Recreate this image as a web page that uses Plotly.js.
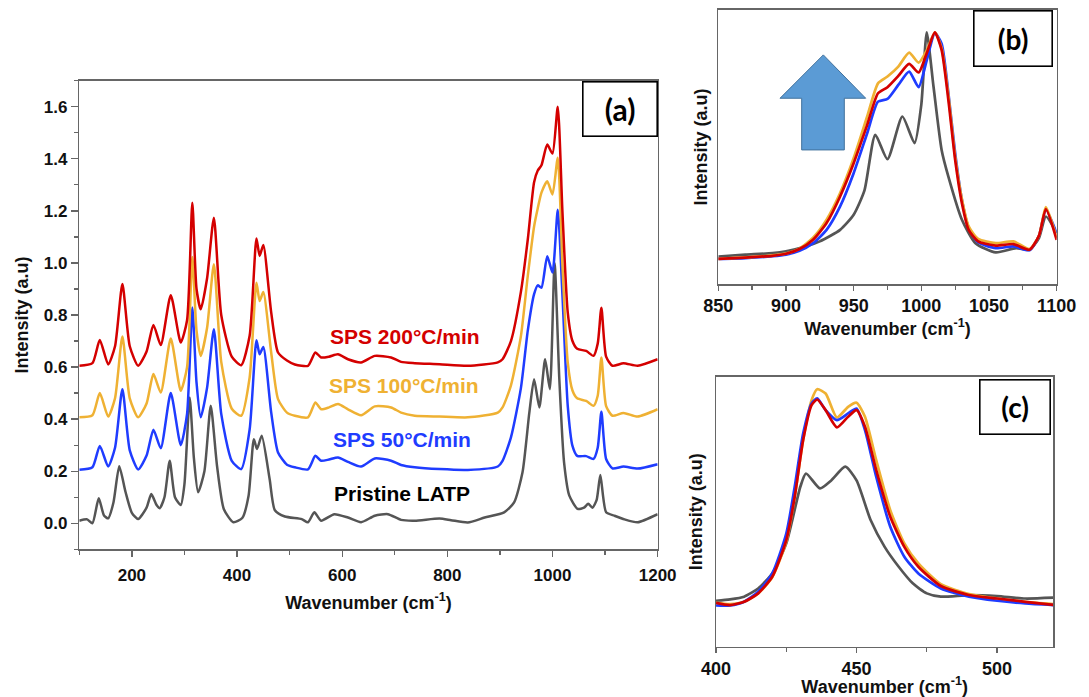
<!DOCTYPE html>
<html><head><meta charset="utf-8">
<script src="https://cdn.plot.ly/plotly-3.0.1.min.js"></script>
<style>html,body{margin:0;padding:0;background:#fff}</style>
</head><body><div id="chart" style="width:1089px;height:697px"></div>
<script>
// ---------- Panel (a): full spectra (offset) ----------
const wnA = [100,125,139,155,168,182,196,212,228,241,255,274,293,305,315,323,331,343,356,370,390,408,424,437,443,450,465,478,495,510,535,549,560,575,592,611,636,662,693,712,738,785,839,896,905,921,940,953,965,972,979,990,1000,1010,1019,1029,1038,1047,1064,1078,1086,1093,1102,1114,1135,1162,1200];
const sps200 = [0.605,0.615,0.704,0.61,0.68,0.919,0.68,0.605,0.66,0.762,0.685,0.876,0.694,0.78,1.231,0.90,0.822,0.94,1.174,0.80,0.64,0.607,0.72,1.094,1.027,1.069,0.81,0.656,0.625,0.61,0.605,0.656,0.637,0.64,0.649,0.63,0.618,0.643,0.637,0.62,0.615,0.611,0.605,0.618,0.63,0.70,0.89,1.09,1.31,1.355,1.375,1.455,1.42,1.60,1.193,0.81,0.70,0.67,0.662,0.643,0.69,0.828,0.64,0.605,0.615,0.605,0.63];
const sps100 = [0.407,0.415,0.50,0.41,0.48,0.717,0.48,0.407,0.46,0.573,0.502,0.71,0.509,0.60,1.023,0.74,0.643,0.75,0.995,0.62,0.44,0.413,0.56,0.924,0.854,0.888,0.656,0.477,0.425,0.413,0.407,0.464,0.438,0.445,0.458,0.438,0.415,0.449,0.445,0.425,0.413,0.41,0.407,0.425,0.445,0.53,0.72,0.95,1.14,1.21,1.27,1.314,1.263,1.404,0.988,0.618,0.51,0.48,0.47,0.451,0.49,0.637,0.45,0.413,0.424,0.41,0.438];
const sps50 = [0.206,0.215,0.297,0.218,0.29,0.515,0.28,0.207,0.26,0.359,0.288,0.50,0.30,0.42,0.829,0.54,0.407,0.52,0.745,0.42,0.24,0.208,0.36,0.703,0.649,0.677,0.426,0.272,0.225,0.215,0.207,0.259,0.24,0.245,0.253,0.236,0.218,0.249,0.24,0.224,0.215,0.208,0.205,0.218,0.24,0.33,0.52,0.74,0.88,0.914,0.905,1.026,0.963,1.204,0.873,0.451,0.297,0.259,0.258,0.247,0.29,0.428,0.247,0.211,0.218,0.21,0.227];
const wnP = [100,115,125,137,147,155,165,176,188,200,212,228,237,247,253,262,272,282,293,300,310,318,326,338,350,362,375,393,410,422,432,438,447,462,472,491,523,535,547,560,585,611,636,662,687,712,738,785,807,839,871,908,927,943,956,965,975,986,995,1004,1013,1022,1032,1048,1060,1068,1076,1084,1091,1102,1118,1137,1162,1200];
const pristine = [0.01,0.015,0.0,0.096,0.03,0.019,0.08,0.219,0.12,0.04,0.016,0.06,0.112,0.07,0.058,0.1,0.24,0.1,0.07,0.15,0.483,0.25,0.119,0.2,0.451,0.22,0.054,0.004,0.02,0.106,0.323,0.285,0.336,0.17,0.05,0.026,0.016,0.004,0.042,0.01,0.035,0.022,0.004,0.029,0.035,0.013,0.01,0.018,0.012,0.003,0.022,0.042,0.08,0.196,0.426,0.553,0.445,0.63,0.515,1.0,0.553,0.234,0.106,0.055,0.06,0.075,0.06,0.09,0.185,0.042,0.029,0.015,0.004,0.035];

// ---------- Panel (b): 850-1100 normalized ----------
const wnB = [850,870,890,900,910,920,930,940,950,960,968,975,983,991,998,1004,1010,1015,1020,1025,1030,1035,1042,1055,1068,1080,1087,1092,1100];
const redB = [-0.004,0.002,0.01,0.019,0.04,0.081,0.155,0.273,0.42,0.59,0.73,0.757,0.807,0.86,0.822,0.907,1.0,0.922,0.70,0.435,0.243,0.125,0.074,0.055,0.062,0.037,0.10,0.217,0.081];
const orangeB = [-0.004,0.003,0.012,0.02,0.042,0.09,0.17,0.288,0.442,0.627,0.774,0.804,0.848,0.91,0.866,0.92,1.0,0.93,0.72,0.45,0.26,0.14,0.085,0.066,0.074,0.04,0.10,0.226,0.09];
const blueB = [-0.004,0.0,0.008,0.015,0.032,0.066,0.125,0.229,0.376,0.553,0.693,0.705,0.767,0.826,0.757,0.876,0.996,0.95,0.73,0.465,0.258,0.133,0.07,0.044,0.052,0.035,0.10,0.214,0.11];
const wnBP = [850,870,890,900,915,925,940,950,958,966,975,986,995,1000,1004,1009,1015,1020,1030,1040,1055,1070,1080,1087,1092,1100];
const pristineB = [0.007,0.015,0.022,0.03,0.052,0.074,0.125,0.192,0.30,0.546,0.438,0.627,0.509,0.68,1.0,0.76,0.479,0.361,0.17,0.066,0.025,0.044,0.037,0.09,0.184,0.11];

// ---------- Panel (c): 400-520 normalized ----------
const wnC = [400,405,410,415,420,425,428,431,434,436,439,443,447,450,453,457,462,467,472,480,490,500,510,520];
const redC = [0.003,-0.008,0.008,0.049,0.13,0.309,0.52,0.797,0.967,0.995,0.943,0.859,0.911,0.943,0.862,0.65,0.423,0.276,0.179,0.085,0.041,0.024,0.008,-0.007];
const blueC = [-0.01,-0.01,0.008,0.057,0.146,0.341,0.569,0.829,0.976,1.0,0.943,0.894,0.927,0.951,0.846,0.618,0.374,0.228,0.146,0.073,0.033,0.013,0.0,-0.008];
const orangeC = [0.003,-0.003,0.008,0.049,0.127,0.301,0.52,0.797,0.992,1.045,1.024,0.907,0.959,0.979,0.911,0.699,0.455,0.293,0.195,0.094,0.046,0.024,0.008,-0.003];
const wnCP = [400,405,410,415,420,425,430,432,437,441,446,450,455,460,465,470,475,480,490,500,510,520];
const pristineC = [0.013,0.02,0.033,0.073,0.146,0.293,0.569,0.634,0.561,0.60,0.667,0.60,0.407,0.276,0.179,0.098,0.049,0.033,0.041,0.036,0.024,0.028];

const labels = ["SPS 200°C/min","SPS 100°C/min","SPS 50°C/min","Pristine LATP"];
const xTitle = "Wavenumber (cm<sup>-1</sup>)";
const yTitle = "Intensity (a.u)";

const C_RED = "#d40000", C_OR = "#efb133", C_BLUE = "#1f3cff", C_GREY = "#555555";
const FONT = "Liberation Sans, Arial, sans-serif";

function tr(x, y, color, xa, ya, name, w) {
  return {x: x, y: y, type: "scatter", mode: "lines", name: name, xaxis: xa, yaxis: ya,
    line: {color: color, width: w, shape: "spline", smoothing: 0.6}, hoverinfo: "x+y+name"};
}
const data = [
  tr(wnP, pristine, C_GREY, "x", "y", labels[3], 2.5),
  tr(wnA, sps50, C_BLUE, "x", "y", labels[2], 2.5),
  tr(wnA, sps100, C_OR, "x", "y", labels[1], 2.5),
  tr(wnA, sps200, C_RED, "x", "y", labels[0], 2.5),
  tr(wnBP, pristineB, C_GREY, "x2", "y2", labels[3], 2.7),
  tr(wnB, blueB, C_BLUE, "x2", "y2", labels[2], 2.7),
  tr(wnB, orangeB, C_OR, "x2", "y2", labels[1], 2.7),
  tr(wnB, redB, C_RED, "x2", "y2", labels[0], 2.7),
  tr(wnCP, pristineC, C_GREY, "x3", "y3", labels[3], 2.7),
  tr(wnC, orangeC, C_OR, "x3", "y3", labels[1], 2.7),
  tr(wnC, blueC, C_BLUE, "x3", "y3", labels[2], 2.7),
  tr(wnC, redC, C_RED, "x3", "y3", labels[0], 2.7)
];

const tickF = {family: FONT, size: 17, color: "#111", weight: "bold"};
const titleF = {family: FONT, size: 18, color: "#111", weight: "bold"};
const axBase = {showline: true, mirror: true, linecolor: "#666", linewidth: 1.5,
  showgrid: false, zeroline: false, ticks: "outside", tickcolor: "#666", tickwidth: 1.3, automargin: false};

const layout = {
  width: 1089, height: 697, margin: {l: 0, r: 0, t: 0, b: 0},
  paper_bgcolor: "#fff", plot_bgcolor: "#fff", showlegend: false,
  xaxis: Object.assign({}, axBase, {domain: [0.0728, 0.6039], range: [100, 1200], anchor: "y",
    tick0: 0, dtick: 200, ticklen: 6, tickfont: tickF, ticklabelstandoff: 4,
    minor: {ticks: "outside", dtick: 100, ticklen: 4, tickcolor: "#666"},
    title: {text: xTitle, font: titleF, standoff: 12}}),
  yaxis: Object.assign({}, axBase, {domain: [0.2119, 0.8842], range: [-0.1, 1.7], anchor: "x",
    tick0: 0, dtick: 0.2, tickformat: ".1f", ticklen: 7, tickfont: tickF,
    minor: {ticks: "outside", dtick: 0.1, ticklen: 4, tickcolor: "#666"},
    title: {text: yTitle, font: titleF, standoff: 10}}),
  xaxis2: Object.assign({}, axBase, {domain: [0.6596, 0.9703], range: [850, 1100], anchor: "y2",
    tick0: 850, dtick: 50, ticklen: 5, tickfont: {family: FONT, size: 18, color: "#111", weight: "bold"},
    minor: {ticks: "outside", dtick: 25, ticklen: 4, tickcolor: "#666"},
    title: {text: xTitle, font: titleF, standoff: 1}}),
  yaxis2: Object.assign({}, axBase, {domain: [0.5925, 0.9857], range: [-0.115, 1.099], anchor: "x2",
    ticks: "", showticklabels: false,
    title: {text: yTitle, font: titleF, standoff: 4}}),
  xaxis3: Object.assign({}, axBase, {domain: [0.6575, 0.9672], range: [400, 520], anchor: "y3",
    tick0: 400, dtick: 50, ticklen: 5, tickfont: {family: FONT, size: 18, color: "#111", weight: "bold"},
    minor: {ticks: "outside", dtick: 25, ticklen: 4, tickcolor: "#666"},
    title: {text: xTitle, font: titleF, standoff: 0}}),
  yaxis3: Object.assign({}, axBase, {domain: [0.0722, 0.4595], range: [-0.211, 1.106], anchor: "x3",
    ticks: "", showticklabels: false,
    title: {text: yTitle, font: titleF, standoff: 7}}),
  shapes: [{type: "path", xref: "x2", yref: "y2",
    path: "M 927.6,0.90 L 958.9,0.708 L 943.1,0.708 L 943.1,0.479 L 911.6,0.479 L 911.6,0.708 L 895.6,0.708 Z",
    fillcolor: "#5b9bd5", line: {color: "#41719c", width: 1}}],
  annotations: [
    {text: "<b>(a)</b>", xref: "x domain", yref: "y domain", x: 1, y: 1, xanchor: "right", yanchor: "top",
     showarrow: false, width: 71, height: 51, bordercolor: "#000", borderwidth: 1.6, bgcolor: "#fff",
     font: {family: "Lato, Open Sans, sans-serif", size: 30, color: "#000"}},
    {text: "<b>(b)</b>", xref: "paper", yref: "paper", x: 1053/1089, y: 1 - 10/697, xanchor: "right", yanchor: "top",
     showarrow: false, width: 75, height: 52, bordercolor: "#000", borderwidth: 1.6, bgcolor: "#fff",
     font: {family: "Lato, Open Sans, sans-serif", size: 28, color: "#000"}},
    {text: "<b>(c)</b>", xref: "paper", yref: "paper", x: 1051/1089, y: 1 - 379/697, xanchor: "right", yanchor: "top",
     showarrow: false, width: 67, height: 51, bordercolor: "#000", borderwidth: 1.6, bgcolor: "#fff",
     font: {family: "Lato, Open Sans, sans-serif", size: 28, color: "#000"}},
    {text: "<b>" + labels[0] + "</b>", xref: "x", yref: "y", x: 720, y: 0.718, showarrow: false,
     font: {family: FONT, size: 21, color: C_RED}},
    {text: "<b>" + labels[1] + "</b>", xref: "x", yref: "y", x: 717, y: 0.531, showarrow: false,
     font: {family: FONT, size: 21, color: C_OR}},
    {text: "<b>" + labels[2] + "</b>", xref: "x", yref: "y", x: 713, y: 0.32, showarrow: false,
     font: {family: FONT, size: 21, color: C_BLUE}},
    {text: "<b>" + labels[3] + "</b>", xref: "x", yref: "y", x: 713, y: 0.116, showarrow: false,
     font: {family: FONT, size: 21, color: "#000"}}
  ]
};
Plotly.newPlot("chart", data, layout, {displayModeBar: false, staticPlot: true});
</script></body></html>
